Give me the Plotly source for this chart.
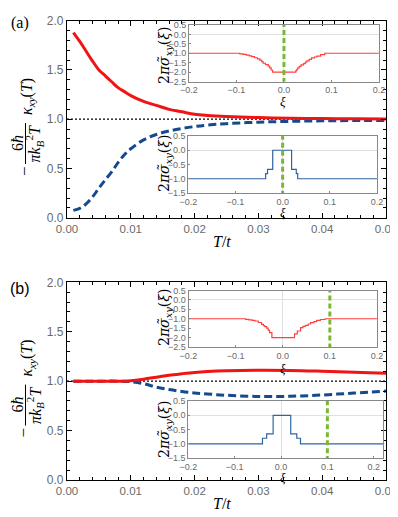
import plotly.graph_objects as go

# the page body keeps its default 8px margin; the figure fills the rest of the 398x517 window
PAGE_W, PAGE_H, BODY = 398, 517, 8
W, H = PAGE_W - BODY, PAGE_H - BODY

# ---------------- data ----------------
T_a = [0.001, 0.002, 0.003, 0.004, 0.005, 0.006, 0.007, 0.008, 0.009, 0.010, 0.012, 0.014,
       0.016, 0.018, 0.020, 0.022, 0.025, 0.030, 0.035, 0.040, 0.045, 0.050]
red_a = [1.88, 1.79, 1.69, 1.59, 1.50, 1.44, 1.38, 1.32, 1.28, 1.24, 1.18, 1.14,
         1.10, 1.075, 1.05, 1.038, 1.027, 1.016, 1.01, 1.006, 1.004, 1.003]
blue_a = [0.074, 0.095, 0.14, 0.21, 0.30, 0.385, 0.465, 0.56, 0.64, 0.70, 0.79, 0.845,
          0.88, 0.905, 0.925, 0.94, 0.955, 0.97, 0.978, 0.983, 0.986, 0.988]

T_b = [0.001, 0.003, 0.005, 0.008, 0.010, 0.012, 0.014, 0.016, 0.018, 0.020, 0.022,
       0.025, 0.030, 0.035, 0.040, 0.045, 0.050]
red_b = [1.0, 1.0, 1.0, 1.0, 1.005, 1.02, 1.04, 1.06, 1.075, 1.088, 1.097,
         1.105, 1.11, 1.108, 1.10, 1.09, 1.08]
blue_b = [1.0, 1.0, 1.0, 1.0, 0.995, 0.975, 0.94, 0.915, 0.895, 0.88, 0.87,
          0.857, 0.845, 0.847, 0.86, 0.88, 0.90]

ref_T = [0.0, 0.05]
ref_val = [1.0, 1.0]

# inset staircases (xi, 2*pi*sigma_xy)
xi_ra = [-0.2, -0.093, -0.086, -0.079, -0.073, -0.068, -0.062, -0.056, -0.051, -0.047, -0.044,
         -0.039, -0.033, -0.030, -0.027, -0.024, 0.025, 0.027, 0.029, 0.032, 0.036, 0.041,
         0.045, 0.048, 0.053, 0.058, 0.064, 0.069, 0.077, 0.086, 0.2]
s_ra = [-1.0, -1.03, -1.06, -1.10, -1.14, -1.18, -1.24, -1.30, -1.36, -1.44, -1.53,
        -1.60, -1.68, -1.78, -1.89, -2.0, -1.92, -1.85, -1.78, -1.70, -1.62, -1.55,
        -1.47, -1.40, -1.32, -1.25, -1.20, -1.15, -1.07, -1.0, -1.0]

xi_ba = [-0.2, -0.036, -0.032, -0.021, 0.019, 0.029, 0.032, 0.2]
s_ba = [-1.0, -0.82, -0.67, 0.0, -0.67, -0.82, -1.0, -1.0]

xi_rb = [-0.2, -0.079, -0.072, -0.065, -0.059, -0.052, -0.045, -0.041, -0.038, -0.034,
         -0.031, -0.028, -0.023, 0.025, 0.031, 0.038, 0.043, 0.048, 0.054, 0.059, 0.066,
         0.072, 0.080, 0.090, 0.2]
s_rb = [-1.0, -1.03, -1.06, -1.09, -1.12, -1.2, -1.3, -1.36, -1.42, -1.5,
        -1.6, -1.74, -2.0, -1.8, -1.65, -1.47, -1.41, -1.35, -1.28, -1.21, -1.15,
        -1.09, -1.04, -1.0, -1.0]

xi_bb = [-0.2, -0.04, -0.031, -0.017, 0.021, 0.034, 0.042, 0.22]
s_bb = [-1.0, -0.8, -0.65, 0.0, -0.65, -0.8, -1.0, -1.0]

green_a = [0.0, 0.0]
green_b = [0.1, 0.1]
green_y = [-3, 1]

x_ticks_main = [0.0, 0.01, 0.02, 0.03, 0.04, 0.05]
y_ticks_main = [0.0, 0.5, 1.0, 1.5, 2.0]
xi_ticks = [-0.2, -0.1, 0.0, 0.1, 0.2]
s_ticks_top = [-2.5, -2.0, -1.5, -1.0, -0.5, 0.0, 0.5]
s_ticks_bot = [-1.5, -1.0, -0.5, 0.0, 0.5]

# ---------------- styling ----------------
RED = '#f01414'
BLUE = '#154a8c'
IRED = '#ff4040'
IBLUE = '#2f64a3'
GREEN = '#7ab834'
GRAY = '#6a6a6a'
SERIF = 'Liberation Serif'
SANS = 'Liberation Sans'


def X(px):
    return (px - BODY) / W


def Y(py):
    return 1 - (py - BODY) / H


fig = go.Figure()

# main panels
for (ax, T, r, b) in [('', T_a, red_a, blue_a), ('2', T_b, red_b, blue_b)]:
    xa, ya = 'x' + ax, 'y' + ax
    fig.add_trace(go.Scatter(x=ref_T, y=ref_val, mode='lines', xaxis=xa, yaxis=ya,
                             line=dict(color='black', width=1.3, dash='2px,2px')))
    fig.add_trace(go.Scatter(x=T, y=b, mode='lines', xaxis=xa, yaxis=ya, line_shape='spline',
                             line=dict(color=BLUE, width=3, dash='8px,4px')))
    fig.add_trace(go.Scatter(x=T, y=r, mode='lines', xaxis=xa, yaxis=ya, line_shape='spline',
                             line=dict(color=RED, width=3)))

# insets
insets = [('3', xi_ra, s_ra, IRED, green_a), ('4', xi_ba, s_ba, IBLUE, green_a),
          ('5', xi_rb, s_rb, IRED, green_b), ('6', xi_bb, s_bb, IBLUE, green_b)]
for (ax, xi, s, c, g) in insets:
    fig.add_trace(go.Scatter(x=xi, y=s, mode='lines', xaxis='x' + ax, yaxis='y' + ax,
                             line_shape='hv', line=dict(color=c, width=1.2)))
    fig.add_trace(go.Scatter(x=g, y=green_y, mode='lines', xaxis='x' + ax, yaxis='y' + ax,
                             line=dict(color=GREEN, width=3, dash='5px,3px')))

main_x = dict(range=[0, 0.0500001], tickvals=x_ticks_main, tickformat='.2f', ticks='inside',
              ticklen=5, tickwidth=1, tickcolor='black', showline=True, linecolor='black',
              linewidth=1.2, mirror='ticks', showgrid=False, zeroline=False,
              tickfont=dict(family=SANS, size=11.5, color=GRAY), automargin=False,
              ticklabeloverflow='allow',
              minor=dict(dtick=0.002, ticks='inside', ticklen=3, tickcolor='black', showgrid=False))
main_y = dict(range=[0, 2.00001], tickvals=y_ticks_main, tickformat='.1f', ticks='inside',
              ticklen=5, tickwidth=1, tickcolor='black', showline=True, linecolor='black',
              linewidth=1.2, mirror='ticks', showgrid=False, zeroline=False,
              tickfont=dict(family=SANS, size=12, color=GRAY), automargin=False,
              ticklabeloverflow='allow',
              minor=dict(dtick=0.1, ticks='inside', ticklen=3, tickcolor='black', showgrid=False))


def inset_x(rng, dom, anchor):
    return dict(range=rng, domain=dom, anchor=anchor, tickvals=xi_ticks, tickformat='.1f',
                ticks='inside', ticklen=2, tickcolor='#888', showline=True, linecolor='#888',
                linewidth=1, mirror=True, showgrid=False, zeroline=True, zerolinecolor='#e0e0e0',
                zerolinewidth=1, tickfont=dict(family=SANS, size=9, color=GRAY), automargin=False,
                ticklabelstandoff=0, ticklabeloverflow='allow')


def inset_y(rng, dom, anchor, tv):
    return dict(range=rng, domain=dom, anchor=anchor, tickvals=tv, tickformat='.1f',
                ticks='inside', ticklen=2, tickcolor='#888', showline=True, linecolor='#888',
                linewidth=1, mirror=True, showgrid=False, zeroline=True, zerolinecolor='#e0e0e0',
                zerolinewidth=1, tickfont=dict(family=SANS, size=9, color=GRAY), automargin=False,
                ticklabelstandoff=0, ticklabeloverflow='allow')


fig.update_layout(
    width=W, height=H, margin=dict(l=0, r=0, t=0, b=0), template='none',
    paper_bgcolor='white', plot_bgcolor='rgba(0,0,0,0)', showlegend=False,
    xaxis=dict(main_x, domain=[X(67), X(386)], anchor='y'),
    yaxis=dict(main_y, domain=[Y(217.7), Y(20.7)], anchor='x'),
    xaxis2=dict(main_x, domain=[X(67), X(386)], anchor='y2'),
    yaxis2=dict(main_y, domain=[Y(480), Y(282.3)], anchor='x2'),
    xaxis3=inset_x([-0.2, 0.2001], [X(189), X(379)], 'y3'),
    yaxis3=inset_y([-2.5001, 0.5001], [Y(81.5), Y(25)], 'x3', s_ticks_top),
    xaxis4=inset_x([-0.2, 0.2001], [X(188.3), X(377)], 'y4'),
    yaxis4=inset_y([-1.5001, 0.5001], [Y(193), Y(136)], 'x4', s_ticks_bot),
    xaxis5=inset_x([-0.2, 0.2001], [X(188.5), X(377)], 'y5'),
    yaxis5=inset_y([-2.5001, 0.5001], [Y(347), Y(290.5)], 'x5', s_ticks_top),
    xaxis6=inset_x([-0.2, 0.22], [X(188.3), X(383)], 'y6'),
    yaxis6=inset_y([-1.5001, 0.5001], [Y(458.3), Y(401)], 'x6', s_ticks_bot),
)

ann = []
shapes = []


def txt(px, py, text, size, family=SERIF, angle=0, color='black'):
    ann.append(dict(x=X(px), y=Y(py), xref='paper', yref='paper', text=text, showarrow=False,
                    xanchor='center', yanchor='middle', textangle=angle,
                    font=dict(family=family, size=size, color=color)))


for off in [0, 261.6]:
    # rotated y-axis title: - 6ħ/(π k_B^2 T) κ_xy(T)
    txt(24, 171 + off, '−', 17, angle=-90)
    txt(17.5, 143.5 + off, '6<i>ħ</i>', 16, angle=-90)
    txt(34.5, 143 + off, '<i>πk</i><sub><i>B</i></sub><sup>2</sup><i>T</i>', 16, angle=-90)
    txt(28, 97 + off, '<i>κ</i><sub><i>xy</i></sub>(<i>T</i>)', 16, angle=-90)
    shapes.append(dict(type='line', xref='paper', yref='paper', x0=X(25.5), x1=X(25.5),
                       y0=Y(123 + off), y1=Y(164 + off), line=dict(color='black', width=1)))
    # x title
    txt(222, 242 + off, '<i>T</i>/<i>t</i>', 16)

# inset labels
for (cy, xy) in [(56, 102), (164, 212), (318, 368), (430, 477)]:
    txt(165, cy, '2<i>π</i><i>σ̃</i><sub><i>xy</i></sub>(<i>ξ</i>)', 14, family='DejaVu Serif', angle=-90)
    txt(283, xy, '<i>ξ</i>', 13)

txt(20, 23.5, '(a)', 16, family=SERIF)
txt(20, 288.5, '(b)', 16, family=SANS)

fig.update_layout(annotations=ann, shapes=shapes)
fig.write_html('out.html')
